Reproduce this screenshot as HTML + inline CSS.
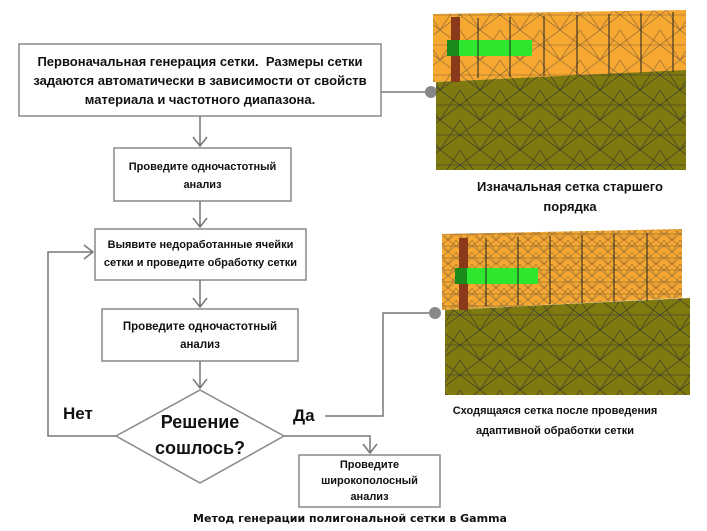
<!DOCTYPE html>
<html><head><meta charset="utf-8"><style>
body{margin:0;background:#fff;width:707px;height:531px;overflow:hidden;font-family:"Liberation Sans","DejaVu Sans",sans-serif;}
.t{position:absolute;font-weight:bold;color:#111;text-align:center;}
</style></head><body>
<svg width="707" height="531" style="position:absolute;left:0;top:0" xmlns="http://www.w3.org/2000/svg">
<defs>
<pattern id="m1" width="40" height="30" patternUnits="userSpaceOnUse"><path d="M0 0L40 30M40 0L0 30M20 0L0 30M20 0L40 30M0 15H40" stroke="#333" stroke-width="0.6" fill="none"/></pattern>
<pattern id="m2" width="16" height="12" patternUnits="userSpaceOnUse"><path d="M0 0L16 12M16 0L0 12M8 0L0 12M8 0L16 12M0 6H16" stroke="#333" stroke-width="0.5" fill="none"/></pattern>
</defs>
<g fill="none" stroke="#777" stroke-width="1.5">
<rect x="19" y="44" width="362" height="72" fill="#fff" stroke="#888"/>
<rect x="114" y="148" width="177" height="53" stroke="#888"/>
<rect x="95" y="229" width="211" height="51" stroke="#888"/>
<rect x="102" y="309" width="196" height="52" stroke="#888"/>
<polygon points="200,390 284,436 200,483 116,436" stroke="#888"/>
<rect x="299" y="455" width="141" height="52" stroke="#888"/>
<path d="M200 116V146M193 137L200 146L207 137"/>
<path d="M200 201V227M193 218L200 227L207 218"/>
<path d="M200 280V307M193 298L200 307L207 298"/>
<path d="M200 361V388M193 379L200 388L207 379"/>
<path d="M116 436H48V252H93M84 245L93 252L84 259"/>
<path d="M284 436H370V453M363 444L370 453L377 444"/>
<path d="M325 416H383V313H432"/>
<path d="M381 92H428"/>
</g>
<circle cx="431" cy="92" r="6" fill="#888"/>
<circle cx="435" cy="313" r="6" fill="#888"/>
<!-- top image -->
<polygon points="433,14 686,10 686,72 433,82" fill="#f6a832"/>
<polygon points="433,14 686,10 686,72 433,82" fill="url(#m1)" opacity="0.6"/>
<polygon points="436,82 686,70 686,170 436,170" fill="#7e7a10"/>
<polygon points="436,82 686,70 686,170 436,170" fill="url(#m1)"/>
<rect x="451" y="17" width="9" height="65" fill="#8a3a1a"/>
<rect x="447" y="40" width="85" height="16" fill="#2ee62e"/>
<rect x="447" y="40" width="12" height="16" fill="#1a8a1a"/>
<path d="M478 18V78M510 17V77M544 16V76M577 15V75M609 14V74M641 13V73M673 12V72" stroke="#222" stroke-width="1"/>
<!-- bottom image -->
<polygon points="442,234 682,229 682,298 442,310" fill="#f6a832"/>
<polygon points="442,234 682,229 682,298 442,310" fill="url(#m2)" opacity="0.7"/>
<polygon points="445,310 690,298 690,395 445,395" fill="#7e7a10"/>
<polygon points="445,310 690,298 690,395 445,395" fill="url(#m1)"/>
<rect x="459" y="238" width="9" height="72" fill="#8a3a1a"/>
<rect x="455" y="268" width="83" height="16" fill="#2ee62e"/>
<rect x="455" y="268" width="12" height="16" fill="#1a8a1a"/>
<path d="M486 238V306M518 237V305M550 236V304M582 235V303M614 234V302M647 233V301" stroke="#222" stroke-width="1"/>
</svg>
<div class="t" style="left:19px;top:52px;width:362px;font-size:13px;line-height:19px">Первоначальная генерация сетки.&nbsp; Размеры сетки задаются автоматически в зависимости от свойств материала и частотного диапазона.</div>
<div class="t" style="left:114px;top:158px;width:177px;font-size:11px;line-height:18px">Проведите одночастотный анализ</div>
<div class="t" style="left:95px;top:236px;width:211px;font-size:11px;line-height:18px">Выявите недоработанные ячейки сетки и проведите обработку сетки</div>
<div class="t" style="left:102px;top:318px;width:196px;font-size:11.5px;line-height:18px">Проведите одночастотный анализ</div>
<div class="t" style="left:140px;top:409px;width:120px;font-size:18px;line-height:26px">Решение сошлось?</div>
<div class="t" style="left:63px;top:404px;font-size:17px">Нет</div>
<div class="t" style="left:293px;top:406px;font-size:17px">Да</div>
<div class="t" style="left:299px;top:457px;width:141px;font-size:11px;line-height:16px">Проведите<br>широкополосный<br>анализ</div>
<div class="t" style="left:440px;top:177px;width:260px;font-size:13px;line-height:20px">Изначальная сетка старшего<br>порядка</div>
<div class="t" style="left:420px;top:401px;width:270px;font-size:11px;line-height:20px">Сходящаяся сетка после проведения<br>адаптивной обработки сетки</div>
<div class="t" style="left:150px;top:512px;width:400px;font-size:11px;font-family:'DejaVu Sans',sans-serif">Метод генерации полигональной сетки в Gamma</div>
</body></html>
